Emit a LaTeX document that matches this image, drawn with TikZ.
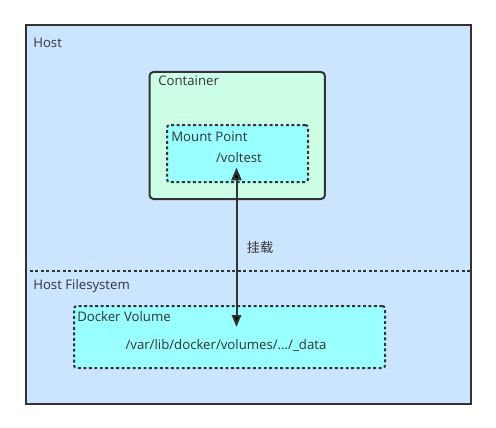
\documentclass[tikz,border=0pt]{standalone}
\usepackage{fontspec}
\setmainfont{Open Sans}
\newfontfamily\cjk{Noto Sans CJK SC}
\usetikzlibrary{arrows.meta}
\definecolor{hostblue}{HTML}{CCE5FF}
\definecolor{ctgreen}{HTML}{CCFFE6}
\definecolor{mntcyan}{HTML}{99FFFF}
\definecolor{ink}{HTML}{333333}

\begin{document}
\begin{tikzpicture}[x=0.75pt, y=-0.75pt, font=\fontsize{9.9}{12}\selectfont,
  area/.style={draw=ink, line width=1.5pt, anchor=north west, inner sep=0pt},
  dotbox/.style={draw=ink, line width=1.5pt, dash pattern=on 2.2pt off 1.9pt,
    rounded corners=2pt, fill=mntcyan, anchor=north west, inner sep=0pt},
  lbl/.style={text=ink, anchor=west, inner sep=0pt}]
  \useasboundingbox (0,0) rectangle (496,428);

  % host and its file system
  \node[area, fill=hostblue, minimum width=334.1pt, minimum height=283.9pt] (host) at (24.5,24.5) {};
  \node[lbl] (hostlbl) at (33,43) {Host};
  \coordinate (fsleft) at (24.5,271);
  \coordinate (fsright) at (470,271);
  \draw[ink, line width=1.5pt, dash pattern=on 2.2pt off 1.9pt] (fsleft) -- (fsright);
  \node[lbl] (fslbl) at (33,286) {Host Filesystem};

  % container with its mount point
  \node[area, fill=ctgreen, rounded corners=3pt, minimum width=131.6pt, minimum height=95.25pt] (container) at (148.5,71) {};
  \node[lbl] (ctlbl) at (158,81) {Container};
  \node[dotbox, minimum width=105.75pt, minimum height=42.75pt] (mount) at (166,124) {};
  \node[lbl] (mntlbl) at (171,137) {Mount Point};
  \node[text=ink, inner sep=0pt] (voltest) at (239,158) {/voltest};

  % docker volume
  \node[dotbox, minimum width=233.25pt, minimum height=46.5pt] (volume) at (73,305) {};
  \node[lbl] (vollbl) at (77,317) {Docker Volume};
  \node[text=ink, inner sep=0pt] (voldata) at (226,345) {/var/lib/docker/volumes/.../\_data};

  % mount link
  \coordinate (mnttip) at (236.5,168);
  \coordinate (voltip) at (236.5,327);
  \path[draw=ink, line width=1.5pt, {Triangle[length=9pt,width=7pt]}-{Triangle[length=9pt,width=7pt]}]
    (mnttip) edge node[text=ink, right=7pt, inner sep=0pt, font=\cjk\fontsize{9.9}{12}\selectfont] {挂载} (voltip);
\end{tikzpicture}
\end{document}
